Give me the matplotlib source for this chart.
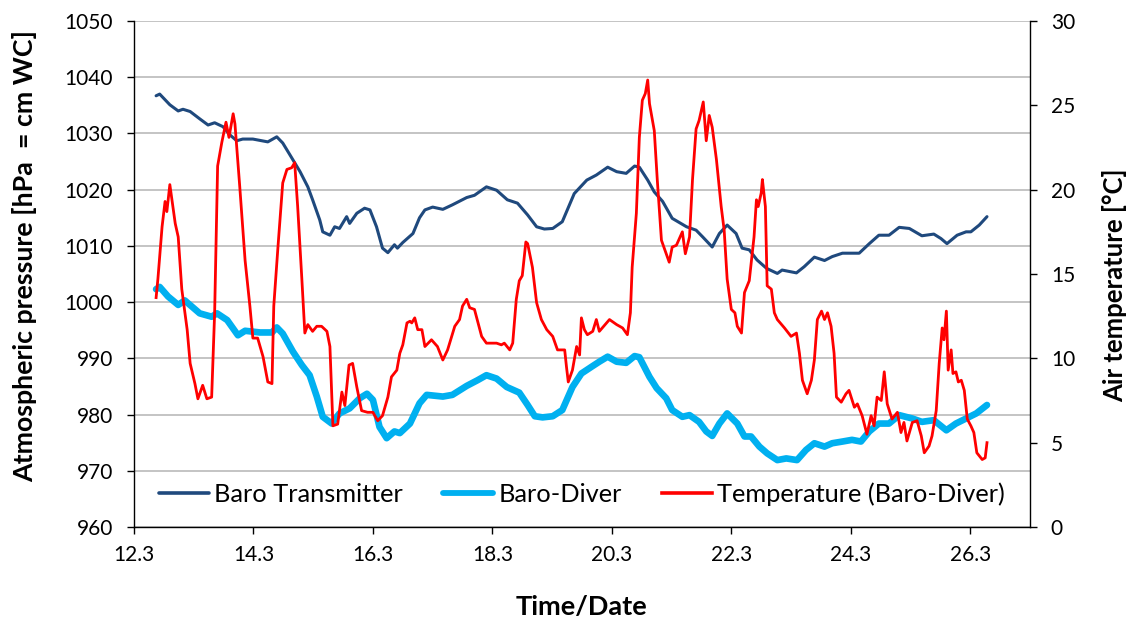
import matplotlib
matplotlib.use("Agg")
import matplotlib.pyplot as plt
from matplotlib.ticker import MultipleLocator

plt.rcParams['font.family'] = ['Lato', 'DejaVu Sans']

# ---- data (day of March, value) ----
baro_tx_day = [12.67, 12.73, 12.90, 13.04, 13.12, 13.24, 13.40, 13.54, 13.65, 13.79, 13.91, 14.02,
               14.12, 14.29, 14.54, 14.69, 14.79, 14.91, 15.08, 15.21, 15.29, 15.41, 15.46, 15.58,
               15.66, 15.74, 15.86, 15.91, 16.03, 16.16, 16.25, 16.36, 16.46, 16.55, 16.66, 16.71,
               16.80, 16.97, 17.08, 17.17, 17.30, 17.47, 17.63, 17.87, 18.00, 18.20, 18.37, 18.55,
               18.72, 18.89, 19.04, 19.17, 19.31, 19.47, 19.67, 19.88, 20.04, 20.23, 20.38, 20.54,
               20.68, 20.76, 20.90, 21.01, 21.15, 21.31, 21.55, 21.71, 21.82, 21.98, 22.10, 22.23,
               22.38, 22.48, 22.60, 22.73, 22.89, 23.07, 23.15, 23.39, 23.52, 23.69, 23.86, 23.99,
               24.16, 24.32, 24.44, 24.61, 24.77, 24.94, 25.11, 25.28, 25.49, 25.69, 25.81, 25.91,
               26.08, 26.23, 26.31, 26.45, 26.58]
baro_tx_val = [1036.7, 1037.0, 1035.1, 1034.0, 1034.3, 1033.9, 1032.6, 1031.5, 1031.9, 1031.2, 1029.7, 1028.7,
               1029.0, 1029.0, 1028.5, 1029.4, 1028.3, 1026.2, 1023.2, 1020.5, 1018.2, 1014.6, 1012.5, 1011.9,
               1013.4, 1013.1, 1015.2, 1014.0, 1015.8, 1016.7, 1016.4, 1013.4, 1009.6, 1008.8, 1010.2, 1009.6,
               1010.6, 1012.2, 1015.0, 1016.4, 1016.9, 1016.5, 1017.3, 1018.6, 1019.0, 1020.5, 1019.9, 1018.2,
               1017.6, 1015.5, 1013.4, 1013.0, 1013.1, 1014.3, 1019.3, 1021.7, 1022.6, 1024.0, 1023.2, 1022.9,
               1024.2, 1024.0, 1021.7, 1019.6, 1017.9, 1014.9, 1013.4, 1012.8, 1011.6, 1009.8, 1012.2, 1013.7,
               1012.2, 1009.6, 1009.3, 1007.5, 1006.0, 1005.1, 1005.7, 1005.2, 1006.3, 1008.0, 1007.4, 1008.1,
               1008.7, 1008.7, 1008.7, 1010.4, 1011.9, 1011.9, 1013.3, 1013.1, 1011.8, 1012.1, 1011.3, 1010.4,
               1011.9, 1012.5, 1012.5, 1013.7, 1015.2]

diver_day = [12.67, 12.73, 12.87, 13.04, 13.15, 13.40, 13.60, 13.69, 13.86, 14.04, 14.16, 14.41,
             14.61, 14.69, 14.79, 14.96, 15.11, 15.24, 15.36, 15.46, 15.61, 15.74, 15.91, 16.08,
             16.20, 16.30, 16.41, 16.53, 16.66, 16.75, 16.92, 17.08, 17.20, 17.47, 17.63, 17.87,
             18.05, 18.20, 18.37, 18.54, 18.75, 18.89, 19.01, 19.14, 19.31, 19.47, 19.64, 19.79,
             19.96, 20.09, 20.23, 20.38, 20.54, 20.68, 20.76, 20.93, 21.05, 21.21, 21.31, 21.48,
             21.60, 21.76, 21.88, 21.98, 22.10, 22.23, 22.40, 22.52, 22.63, 22.77, 22.90, 23.07,
             23.22, 23.40, 23.55, 23.69, 23.86, 23.99, 24.16, 24.32, 24.47, 24.61, 24.77, 24.94,
             25.11, 25.33, 25.49, 25.69, 25.90, 26.06, 26.23, 26.40, 26.58]
diver_val = [1002.3, 1002.7, 1001.0, 999.5, 1000.3, 998.0, 997.4, 998.0, 996.8, 994.1, 994.9, 994.6,
             994.6, 995.5, 994.4, 991.2, 988.8, 987.0, 983.2, 979.6, 978.4, 980.2, 981.1, 982.9,
             983.7, 982.6, 977.8, 975.8, 977.0, 976.7, 978.4, 982.0, 983.5, 983.2, 983.5, 985.1,
             986.1, 987.0, 986.4, 984.9, 983.9, 981.7, 979.7, 979.5, 979.7, 980.8, 984.9, 987.3,
             988.5, 989.4, 990.3, 989.4, 989.2, 990.4, 990.2, 986.7, 984.7, 982.9, 980.8, 979.6,
             979.9, 978.7, 977.0, 976.2, 978.4, 980.2, 978.4, 976.1, 976.1, 974.3, 973.1, 971.9,
             972.2, 971.9, 973.7, 974.9, 974.3, 974.9, 975.2, 975.5, 975.2, 977.0, 978.4, 978.4,
             979.9, 979.3, 978.7, 979.0, 977.2, 978.4, 979.3, 980.2, 981.7]

temp_day = [12.67, 12.70, 12.77, 12.82, 12.85, 12.90, 12.99, 13.04, 13.10, 13.19, 13.24, 13.32,
            13.37, 13.45, 13.52, 13.60, 13.65, 13.70, 13.77, 13.84, 13.89, 13.96, 13.99, 14.07,
            14.16, 14.24, 14.29, 14.37, 14.46, 14.54, 14.61, 14.64, 14.71, 14.79, 14.86, 14.94,
            14.99, 15.04, 15.11, 15.16, 15.21, 15.29, 15.36, 15.44, 15.53, 15.58, 15.63, 15.71,
            15.78, 15.83, 15.90, 15.96, 16.03, 16.11, 16.21, 16.30, 16.38, 16.46, 16.55, 16.61,
            16.70, 16.75, 16.80, 16.87, 16.92, 16.95, 17.00, 17.05, 17.12, 17.17, 17.28, 17.38,
            17.47, 17.55, 17.67, 17.75, 17.80, 17.87, 17.92, 18.00, 18.12, 18.20, 18.37, 18.45,
            18.50, 18.59, 18.64, 18.70, 18.75, 18.80, 18.86, 18.89, 18.97, 19.04, 19.12, 19.21,
            19.31, 19.39, 19.51, 19.54, 19.57, 19.64, 19.71, 19.76, 19.79, 19.84, 19.89, 19.98,
            20.04, 20.09, 20.26, 20.38, 20.48, 20.56, 20.61, 20.64, 20.71, 20.76, 20.81, 20.86,
            20.90, 20.93, 21.01, 21.06, 21.13, 21.18, 21.26, 21.31, 21.38, 21.48, 21.53, 21.60,
            21.65, 21.71, 21.76, 21.83, 21.88, 21.93, 21.98, 22.05, 22.13, 22.18, 22.23, 22.30,
            22.36, 22.40, 22.47, 22.52, 22.60, 22.68, 22.72, 22.75, 22.80, 22.82, 22.87, 22.90,
            22.97, 23.02, 23.07, 23.19, 23.30, 23.39, 23.44, 23.49, 23.57, 23.64, 23.69, 23.74,
            23.81, 23.86, 23.91, 23.97, 24.02, 24.06, 24.14, 24.22, 24.27, 24.36, 24.41, 24.49,
            24.57, 24.64, 24.69, 24.74, 24.81, 24.86, 24.91, 24.99, 25.08, 25.14, 25.19, 25.24,
            25.33, 25.41, 25.48, 25.53, 25.61, 25.66, 25.73, 25.78, 25.83, 25.86, 25.90, 25.93,
            25.98, 26.01, 26.06, 26.10, 26.15, 26.20, 26.25, 26.31, 26.36, 26.41, 26.50, 26.55,
            26.58]
temp_val = [13.6, 14.7, 17.8, 19.3, 18.7, 20.3, 18.0, 17.2, 14.1, 11.7, 9.7, 8.5,
            7.6, 8.4, 7.6, 7.7, 12.7, 21.4, 22.8, 24.0, 23.1, 24.5, 23.9, 20.2,
            15.8, 13.1, 11.2, 11.2, 10.1, 8.6, 8.5, 13.1, 16.6, 20.4, 21.2, 21.3,
            21.6, 19.0, 14.7, 11.5, 12.0, 11.6, 11.9, 11.9, 11.6, 10.7, 6.0, 6.1,
            8.0, 7.2, 9.6, 9.7, 8.3, 6.9, 6.8, 6.8, 6.3, 6.6, 7.7, 8.9,
            9.3, 10.3, 10.8, 12.1, 12.2, 12.1, 12.4, 11.7, 11.7, 10.7, 11.1, 10.7,
            9.9, 10.5, 11.9, 12.3, 13.1, 13.5, 13.0, 12.9, 11.3, 10.9, 10.9, 10.8,
            10.9, 10.5, 10.9, 13.5, 14.6, 14.9, 16.9, 16.8, 15.4, 13.3, 12.3, 11.7,
            11.3, 10.5, 10.5, 9.5, 8.6, 9.3, 10.7, 10.2, 12.4, 11.7, 11.4, 11.6,
            12.3, 11.6, 12.3, 12.0, 11.8, 11.4, 12.7, 15.4, 18.6, 23.1, 25.3, 25.7,
            26.5, 25.1, 23.5, 20.6, 17.0, 16.5, 15.7, 16.6, 16.7, 17.5, 16.2, 17.2,
            20.6, 23.6, 24.1, 25.2, 22.9, 24.4, 23.7, 21.8, 19.0, 17.6, 14.7, 12.9,
            12.7, 11.9, 11.5, 13.9, 14.6, 17.2, 19.4, 19.0, 19.8, 20.6, 19.0, 14.3,
            14.1, 12.7, 12.3, 11.8, 11.3, 11.5, 10.3, 8.7, 7.9, 8.7, 9.9, 12.3,
            12.8, 12.3, 12.7, 11.9, 10.3, 7.7, 7.4, 7.9, 8.1, 7.1, 7.3, 6.6,
            5.5, 6.6, 6.0, 7.7, 7.5, 9.2, 7.3, 6.4, 6.8, 5.6, 6.2, 5.1,
            6.2, 6.3, 5.4, 4.4, 4.8, 5.4, 6.9, 9.7, 11.8, 11.1, 12.8, 9.3,
            10.5, 9.1, 9.2, 8.6, 8.7, 8.1, 6.4, 6.0, 5.6, 4.4, 4.0, 4.1,
            5.0]

x_ticks = [12.3, 14.3, 16.3, 18.3, 20.3, 22.3, 24.3, 26.3]
x_tick_labels = ["12.3", "14.3", "16.3", "18.3", "20.3", "22.3", "24.3", "26.3"]

# ---- figure ----
fig = plt.figure(figsize=(11.34, 6.24), dpi=100)
ax = fig.add_axes([134/1134, 1-527/624, 896/1134, 506/624])
ax2 = ax.twinx()

l1, = ax.plot(baro_tx_day, baro_tx_val, color='#1F497D', lw=2.2, label='Baro Transmitter',
              solid_joinstyle='round', solid_capstyle='round')
l2, = ax.plot(diver_day, diver_val, color='#00B0F0', lw=4.8, label='Baro-Diver',
              solid_joinstyle='round', solid_capstyle='round')
l3, = ax2.plot(temp_day, temp_val, color='#FF0000', lw=2.0, label='Temperature (Baro-Diver)',
               solid_joinstyle='round')

ax.set_xlim(12.3, 27.3)
ax.set_ylim(960, 1050)
ax2.set_ylim(0, 30)
ax.yaxis.set_major_locator(MultipleLocator(10))
ax2.yaxis.set_major_locator(MultipleLocator(5))
ax.set_xticks(x_ticks)
ax.set_xticklabels(x_tick_labels)

ax.grid(axis='y', color='#BFBFBF', lw=1.3)
ax.set_axisbelow(True)

for a in (ax, ax2):
    a.spines['top'].set_visible(False)
    for s in a.spines.values():
        s.set_color('black')
        s.set_linewidth(1.0)
ax.spines['right'].set_visible(False)
ax2.spines['left'].set_visible(False)
ax2.spines['bottom'].set_visible(False)

ax.tick_params(axis='both', direction='out', length=5, width=1, labelsize=15, colors='black')
ax.tick_params(axis='y', pad=10)
ax.tick_params(axis='x', pad=8)
ax2.tick_params(axis='y', direction='out', length=5, width=1, labelsize=15, pad=10)

ax.set_ylabel('Atmospheric pressure [hPa  = cm WC]', fontsize=19.3, fontweight='bold')
ax2.set_ylabel('Air temperature [°C]', fontsize=18.5, fontweight='bold')
ax.set_xlabel('Time/Date', fontsize=19.5, fontweight='bold')
ax.yaxis.set_label_coords(-0.108, 0.536)
ax2.yaxis.set_label_coords(1.081, 0.478)
ax.xaxis.set_label_coords(0.5, -0.134)

leg = ax2.legend(handles=[l1, l2, l3], loc='center', bbox_to_anchor=(0.5, 0.065), ncol=3,
                 frameon=True, fontsize=18.3, handlelength=1.95, handletextpad=0.2,
                 columnspacing=1.6, borderpad=0.15)
leg.get_frame().set_facecolor('white')
leg.get_frame().set_edgecolor('none')
leg.get_frame().set_alpha(1.0)
for h in leg.get_lines():
    h.set_linewidth(2.6)
leg.get_lines()[1].set_linewidth(4.2)

fig.savefig('out.png', dpi=100)
